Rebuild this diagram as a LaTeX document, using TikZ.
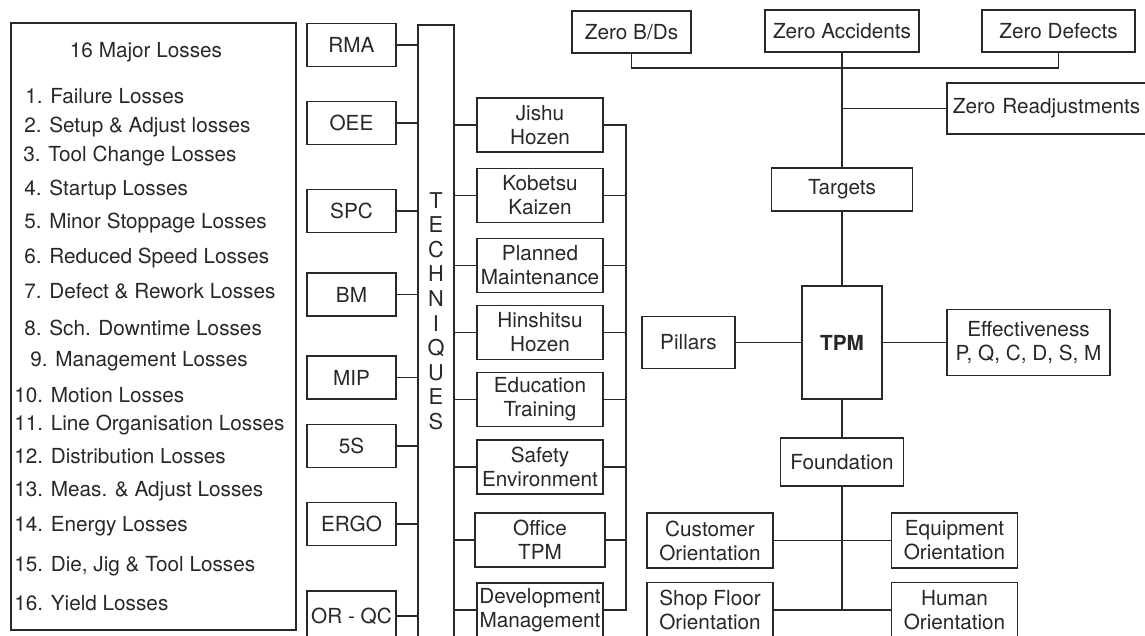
\documentclass[tikz,border=0pt]{standalone}
\usepackage{fontspec}
\setmainfont{TeX Gyre Heros}
\usetikzlibrary{positioning}
\definecolor{ink}{RGB}{40,40,40}

\begin{document}
\begin{tikzpicture}[x=0.02cm, y=-0.02cm, every node/.style={font=\fontsize{11.8}{13.6}\selectfont,text=ink}, box/.style={draw=ink,line width=1pt,rectangle,inner sep=0pt,align=center}, techbox/.style={box,minimum width=1.78cm,minimum height=.86cm}, pillarbox/.style={box,minimum width=2.52cm,minimum height=1.08cm}, orientbox/.style={box,minimum width=2.52cm,minimum height=1.1cm}, zerobox/.style={box,minimum height=.84cm}, item/.style={anchor=west,inner sep=0pt}, link/.style={draw=ink,line width=1pt}]
  \useasboundingbox (0,0) rectangle (1145,635);
  \clip (0,0) rectangle (1145,635);

  \node[box,minimum width=5.7cm,minimum height=12.14cm] (losses) at (153.5,326.5) {};
  \node (lhead) at (146,52) {16 Major Losses};
  \node[item] (l1) at (25,96) {1. Failure Losses};
  \node[item] (l2) at (24,127) {2. Setup \& Adjust losses};
  \node[item] (l3) at (23,156) {3. Tool Change Losses};
  \node[item] (l4) at (24,190) {4. Startup Losses};
  \node[item] (l5) at (24,223) {5. Minor Stoppage Losses};
  \node[item] (l6) at (24,258) {6. Reduced Speed Losses};
  \node[item] (l7) at (24,291) {7. Defect \& Rework Losses};
  \node[item] (l8) at (24,328) {8. Sch. Downtime Losses};
  \node[item] (l9) at (30,361) {9. Management Losses};
  \node[item] (l10) at (14,395) {10. Motion Losses};
  \node[item] (l11) at (14,425) {11. Line Organisation Losses};
  \node[item] (l12) at (14,456) {12. Distribution Losses};
  \node[item] (l13) at (14,491) {13. Meas. \& Adjust Losses};
  \node[item] (l14) at (14,526) {14. Energy Losses};
  \node[item] (l15) at (14,566) {15. Die, Jig \& Tool Losses};
  \node[item] (l16) at (14,603) {16. Yield Losses};

  \node[techbox] (rma) at (351.5,45) {RMA};
  \node[techbox] (oee) at (351.5,123) {OEE};
  \node[techbox] (spc) at (351.5,211) {SPC};
  \node[techbox] (bm) at (351.5,294.5) {BM};
  \node[techbox] (mip) at (351.5,377.5) {MIP};
  \node[techbox] (fives) at (351.5,446) {5S};
  \node[techbox] (ergo) at (351.5,524) {ERGO};
  \node[techbox,minimum height=1cm] (orqc) at (351.5,616) {OR - QC};

  \node[box,minimum width=.72cm,minimum height=12.9cm,anchor=north] (tech) at (436,24) {};
  \node[align=center,font=\fontsize{12.4}{14}\selectfont] (techlbl) at (436,311) {T\\E\\C\\H\\N\\I\\Q\\U\\E\\S};
  \draw[link] (rma) -- (rma -| tech.west);
  \draw[link] (oee) -- (oee -| tech.west);
  \draw[link] (spc) -- (spc -| tech.west);
  \draw[link] (bm) -- (bm -| tech.west);
  \draw[link] (mip) -- (mip -| tech.west);
  \draw[link] (fives) -- (fives -| tech.west);
  \draw[link] (ergo) -- (ergo -| tech.west);
  \draw[link] (orqc) -- (orqc -| tech.west);

  \node[pillarbox] (jishu) at (540,125) {Jishu\\Hozen};
  \node[pillarbox] (kobetsu) at (540,195.5) {Kobetsu\\Kaizen};
  \node[pillarbox] (planned) at (540,265.5) {Planned\\Maintenance};
  \node[pillarbox] (hinshitsu) at (540,332.5) {Hinshitsu\\Hozen};
  \node[pillarbox] (edu) at (540,399.5) {Education\\Training};
  \node[pillarbox] (safety) at (540,467) {Safety\\Environment};
  \node[pillarbox,minimum width=2.6cm] (office) at (540,540) {Office\\TPM};
  \node[pillarbox] (devel) at (540,610) {Development\\Management};
  \draw[link] (jishu) -- (jishu -| tech.east);
  \draw[link] (kobetsu) -- (kobetsu -| tech.east);
  \draw[link] (planned) -- (planned -| tech.east);
  \draw[link] (hinshitsu) -- (hinshitsu -| tech.east);
  \draw[link] (edu) -- (edu -| tech.east);
  \draw[link] (safety) -- (safety -| tech.east);
  \draw[link] (office) -- (office -| tech.east);
  \draw[link] (devel) -- (devel -| tech.east);

  \coordinate (pbus) at (626,0);
  \draw[link] (jishu.east) -| (pbus |- devel) -- (devel.east);
  \draw[link] (kobetsu) -- (kobetsu -| pbus);
  \draw[link] (planned) -- (planned -| pbus);
  \draw[link] (hinshitsu) -- (hinshitsu -| pbus);
  \draw[link] (edu) -- (edu -| pbus);
  \draw[link] (safety) -- (safety -| pbus);
  \draw[link] (office) -- (office -| pbus);

  \node[zerobox,minimum width=2.38cm] (zerobd) at (631.5,32) {Zero B/Ds};
  \node[zerobox,minimum width=3.08cm] (zeroacc) at (842,31) {Zero Accidents};
  \node[zerobox,minimum width=3.06cm] (zerodef) at (1058.5,31) {Zero Defects};
  \node[box,text width=4.4cm,align=left,minimum height=1.02cm,anchor=west] (zeroreadj) at (946,108.5) {\hspace{.12cm}Zero Readjustments};
  \node[box,minimum width=2.82cm,minimum height=.86cm] (targets) at (842,189.5) {Targets};
  \node[box,minimum width=1.6cm,minimum height=2.26cm] (tpm) at (842,342.5) {\bfseries TPM};
  \node[box,minimum width=1.86cm,minimum height=1.04cm] (pillars) at (688.5,342.5) {Pillars};
  \node[box,minimum width=3.26cm,minimum height=1.32cm] (effect) at (1028.5,342.5) {Effectiveness\\P, Q, C, D, S, M};
  \node[box,minimum width=2.46cm,minimum height=.96cm] (found) at (842,462) {Foundation};
  \node[orientbox] (cust) at (710,540.5) {Customer\\Orientation};
  \node[orientbox] (equip) at (954.5,540.5) {Equipment\\Orientation};
  \node[orientbox] (shop) at (710,610) {Shop Floor\\Orientation};
  \node[orientbox] (human) at (954.5,610) {Human\\Orientation};

  \draw[link] (zerobd.south) -- ++(0,14) -| (zerodef.south);
  \draw[link] (zeroacc) -- (targets);
  \draw[link] (zeroreadj.west) -- (zeroreadj.west -| zeroacc);
  \draw[link] (targets) -- (tpm);
  \draw[link] (pillars) -- (tpm) -- (effect);
  \draw[link] (tpm) -- (found);
  \draw[link] (found) -- (found |- shop);
  \draw[link] (cust) -- (equip);
  \draw[link] (shop) -- (human);
\end{tikzpicture}
\end{document}
